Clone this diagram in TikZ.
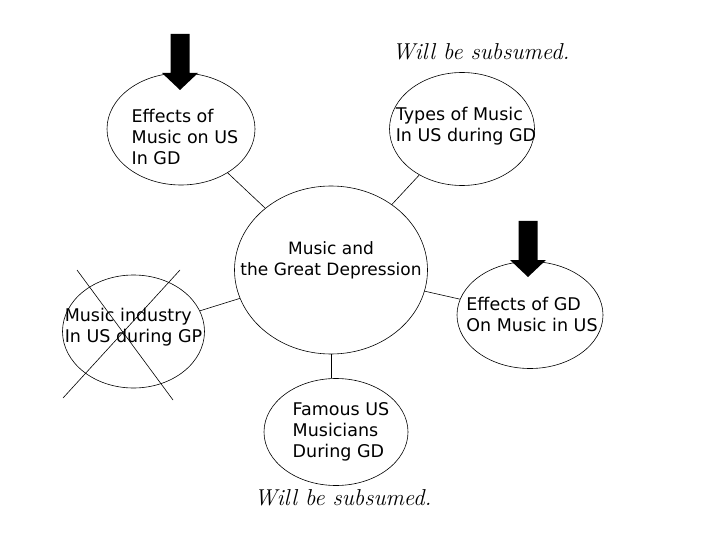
\documentclass[tikz,border=0pt]{standalone}
\usepackage{fontspec}
\newfontfamily\comicfont{DejaVu Sans}
\usetikzlibrary{shapes.geometric}

\tikzset{
  bubble/.style={draw, ellipse, line width=0.6pt, inner sep=0pt},
  bubbletext/.style={font=\comicfont\fontsize{17.5}{21}\selectfont, inner sep=0pt, align=left},
  subsumed/.style={font=\itshape\fontsize{23}{26}\selectfont, inner sep=0pt, anchor=base},
  spoke/.style={line width=0.6pt},
  blockarrow/.pic={
    \fill (0,0) -- (-18,-17) -- (-9.5,-17) -- (-9.5,-56) -- (9.5,-56)
      -- (9.5,-17) -- (18,-17) -- cycle;
  }
}

\begin{document}
\begin{tikzpicture}[x=1pt, y=-1pt]
  \fill[white] (0,0) rectangle (720,540);
  \useasboundingbox (0,0) rectangle (720,540);

  % centre topic
  \node[bubble, minimum width=193, minimum height=168] (gd) at (331,270) {};
  \node[bubbletext, align=center, font=\comicfont\fontsize{17}{21}\selectfont]
    (gd-t) at ([yshift=10]gd.center) {Music and\\the Great Depression};

  % sub topics
  \node[bubble, minimum width=148, minimum height=112] (musus) at (181,129) {};
  \node[bubbletext] (musus-t) at ([xshift=4,yshift=-8]musus.center)
    {Effects of\\Music on US\\In GD};

  \node[bubble, minimum width=145, minimum height=113] (types) at (462,129) {};
  \node[bubbletext] (types-t) at ([xshift=4,yshift=3]types.center)
    {Types of Music\\In US during GD};

  \node[bubble, minimum width=142, minimum height=113] (ind) at (133.5,331.5) {};
  \node[bubbletext] (ind-t) at ([yshift=4]ind.center)
    {Music industry\\In US during GP};

  \node[bubble, minimum width=146, minimum height=107] (effgd) at (530,315) {};
  \node[bubbletext] (effgd-t) at ([xshift=2,yshift=1]effgd.center)
    {Effects of GD\\On Music in US};

  \node[bubble, minimum width=144, minimum height=107] (famous) at (336,432) {};
  \node[bubbletext] (famous-t) at ([xshift=5]famous.center)
    {Famous US\\Musicians\\During GD};

  % spokes
  \draw[spoke] (musus) -- (gd);
  \draw[spoke] (types) -- (gd);
  \draw[spoke] (ind) -- (gd);
  \draw[spoke] (effgd) -- (gd);
  \draw[spoke] (gd.south) -- (gd.south |- famous.north);

  % crossed out
  \draw[spoke] (77,270) -- (173,400);
  \draw[spoke] (180,270) -- (63,398);

  % markers
  \pic at (180,90) {blockarrow};
  \pic at (528,277) {blockarrow};

  \node[subsumed] (sub-top) at (481,60) {Will be subsumed.};
  \node[subsumed] (sub-bot) at (343,505) {Will be subsumed.};
\end{tikzpicture}
\end{document}
